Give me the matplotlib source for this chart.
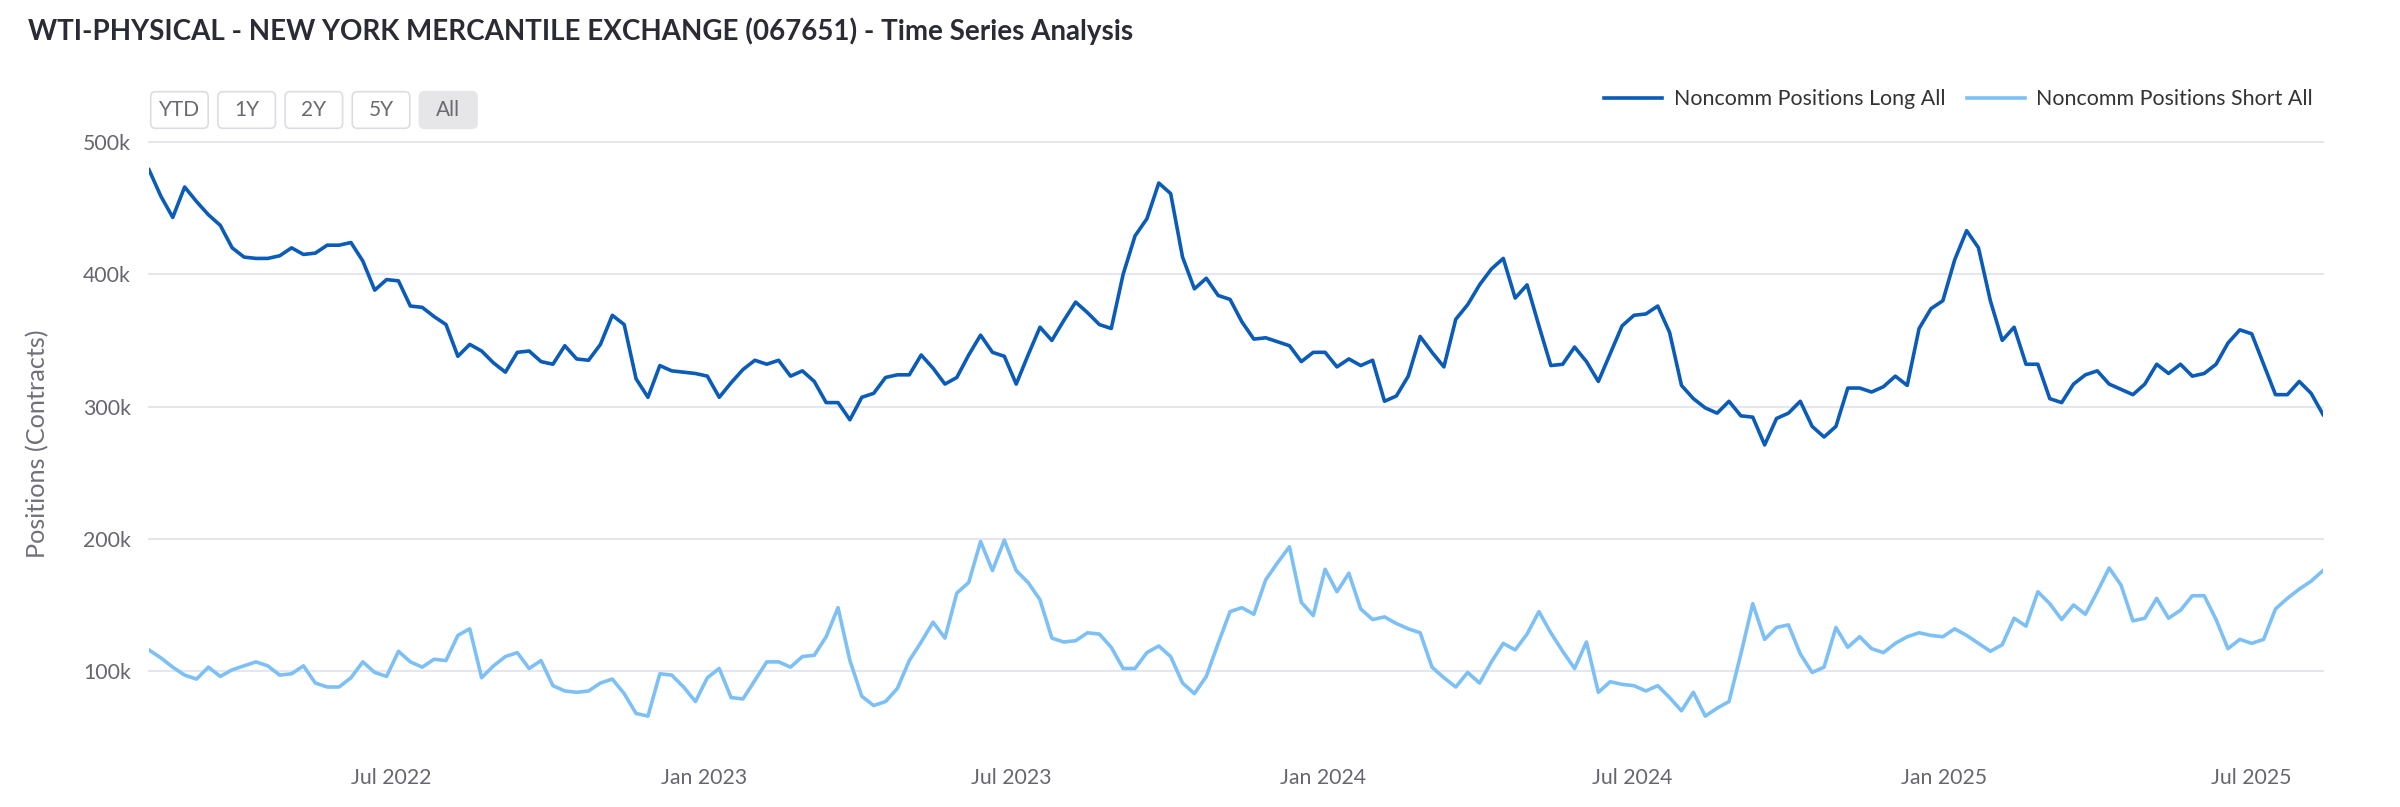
import matplotlib
matplotlib.use("Agg")
import matplotlib.pyplot as plt
import matplotlib.dates as mdates
from matplotlib.patches import FancyBboxPatch
from matplotlib.transforms import IdentityTransform
from matplotlib.ticker import FuncFormatter, MultipleLocator
import pandas as pd

W, H = 2400, 807

chart_title = "WTI-PHYSICAL - NEW YORK MERCANTILE EXCHANGE (067651) - Time Series Analysis"
y_title = "Positions (Contracts)"
series_names = ["Noncomm Positions Long All", "Noncomm Positions Short All"]
range_buttons = ["YTD", "1Y", "2Y", "5Y", "All"]
first_report = "2022-02-08"   # weekly COT reports (Tuesdays)

# noncommercial long positions, thousands of contracts
long_k = [
    479, 459, 443, 466, 455, 445, 437, 420, 413, 412,
    412, 414, 420, 415, 416, 422, 422, 424, 410, 388,
    396, 395, 376, 375, 368, 362, 338, 347, 342, 333,
    326, 341, 342, 334, 332, 346, 336, 335, 347, 369,
    362, 321, 307, 331, 327, 326, 325, 323, 307, 318,
    328, 335, 332, 335, 323, 327, 319, 303, 303, 290,
    307, 310, 322, 324, 324, 339, 329, 317, 322, 339,
    354, 341, 338, 317, 339, 360, 350, 365, 379, 371,
    362, 359, 400, 429, 442, 469, 461, 413, 389, 397,
    384, 381, 364, 351, 352, 349, 346, 334, 341, 341,
    330, 336, 331, 335, 304, 308, 323, 353, 341, 330,
    366, 377, 392, 404, 412, 382, 392, 361, 331, 332,
    345, 334, 319, 340, 361, 369, 370, 376, 356, 316,
    306, 299, 295, 304, 293, 292, 271, 291, 295, 304,
    285, 277, 285, 314, 314, 311, 315, 323, 316, 359,
    374, 380, 411, 433, 420, 380, 350, 360, 332, 332,
    306, 303, 317, 324, 327, 317, 313, 309, 317, 332,
    325, 332, 323, 325, 332, 348, 358, 355, 332, 309,
    309, 319, 310, 294,
]

# noncommercial short positions, thousands of contracts
short_k = [
    116, 110, 103, 97, 94, 103, 96, 101, 104, 107,
    104, 97, 98, 104, 91, 88, 88, 95, 107, 99,
    96, 115, 107, 103, 109, 108, 127, 132, 95, 104,
    111, 114, 102, 108, 89, 85, 84, 85, 91, 94,
    83, 68, 66, 98, 97, 88, 77, 95, 102, 80,
    79, 93, 107, 107, 103, 111, 112, 126, 148, 108,
    81, 74, 77, 87, 108, 122, 137, 125, 159, 167,
    198, 176, 199, 176, 167, 154, 125, 122, 123, 129,
    128, 118, 102, 102, 114, 119, 111, 91, 83, 96,
    121, 145, 148, 143, 169, 182, 194, 152, 142, 177,
    160, 174, 147, 139, 141, 136, 132, 129, 103, 95,
    88, 99, 91, 107, 121, 116, 128, 145, 129, 115,
    102, 122, 84, 92, 90, 89, 85, 89, 80, 70,
    84, 66, 72, 77, 113, 151, 124, 133, 135, 113,
    99, 103, 133, 118, 126, 117, 114, 121, 126, 129,
    127, 126, 132, 127, 121, 115, 120, 140, 134, 160,
    151, 139, 150, 143, 160, 178, 165, 138, 140, 155,
    140, 146, 157, 157, 139, 117, 124, 121, 124, 147,
    155, 162, 168, 176,
]

report_dates = pd.date_range(first_report, periods=len(long_k), freq="7D")

plt.rcParams['font.family'] = ['Lato', 'DejaVu Sans']

long_colour = '#0b5cb9'
short_colour = '#7cc0f6'
grid_colour = '#e6e6ee'
label_colour = '#666670'

fig = plt.figure(figsize=(W / 100, H / 100), dpi=100)
ax = fig.add_axes([149 / W, 1 - 755 / H, (2323 - 149) / W, (755 - 142) / H])

ax.plot(report_dates, long_k, color=long_colour, lw=2.6, label=series_names[0])
ax.plot(report_dates, short_k, color=short_colour, lw=2.6, label=series_names[1])

ax.set_xlim(report_dates[0], report_dates[-1])
ax.set_ylim(36.6, 500)
ax.yaxis.set_major_locator(MultipleLocator(100))
ax.yaxis.set_major_formatter(FuncFormatter(lambda v, p: "%dk" % v))
ax.xaxis.set_major_locator(mdates.MonthLocator(bymonth=[1, 7]))
ax.xaxis.set_major_formatter(mdates.DateFormatter('%b %Y'))

ax.grid(axis='y', color=grid_colour, lw=1.5)
ax.set_axisbelow(True)
for gl in ax.get_ygridlines():
    gl.set_clip_on(False)
for s in ax.spines.values():
    s.set_visible(False)
ax.tick_params(axis='both', length=0, labelsize=15.3, colors=label_colour)
ax.tick_params(axis='y', pad=13)
ax.tick_params(axis='x', pad=9)

# title and axis title
fig.text(28 / W, 1 - 31 / H, chart_title, ha='left', va='center', fontsize=20,
         fontweight='bold', color='#2b2b35')
fig.text(38 / W, 1 - 444 / H, y_title, rotation=90, ha='center', va='center',
         fontsize=18.2, color='#70707a')

# range selector buttons
bx, by, bw, bh, gap = 150.7, 91.7, 57.5, 36.6, 9.7
for k, name in enumerate(range_buttons):
    x0 = bx + k * (bw + gap)
    selected = name == "All"
    box = FancyBboxPatch((x0, H - by - bh), bw, bh,
                         boxstyle="round,pad=0,rounding_size=5",
                         transform=IdentityTransform(),
                         fc='#e6e6e8' if selected else 'white',
                         ec='#e6e6e8' if selected else '#dcdce2', lw=1.2)
    fig.add_artist(box)
    fig.text((x0 + bw / 2) / W, 1 - (by + bh / 2) / H, name, ha='center', va='center',
             fontsize=15, color='#6a6a72')

ax.legend(loc='center right', bbox_to_anchor=(2313 / W, 1 - 99 / H),
          bbox_transform=fig.transFigure, ncol=2, frameon=False, fontsize=15.4,
          handlelength=2.7, handletextpad=0.55, columnspacing=1.0,
          borderpad=0, borderaxespad=0, labelcolor='#333333')

fig.savefig('out.png', dpi=100)
